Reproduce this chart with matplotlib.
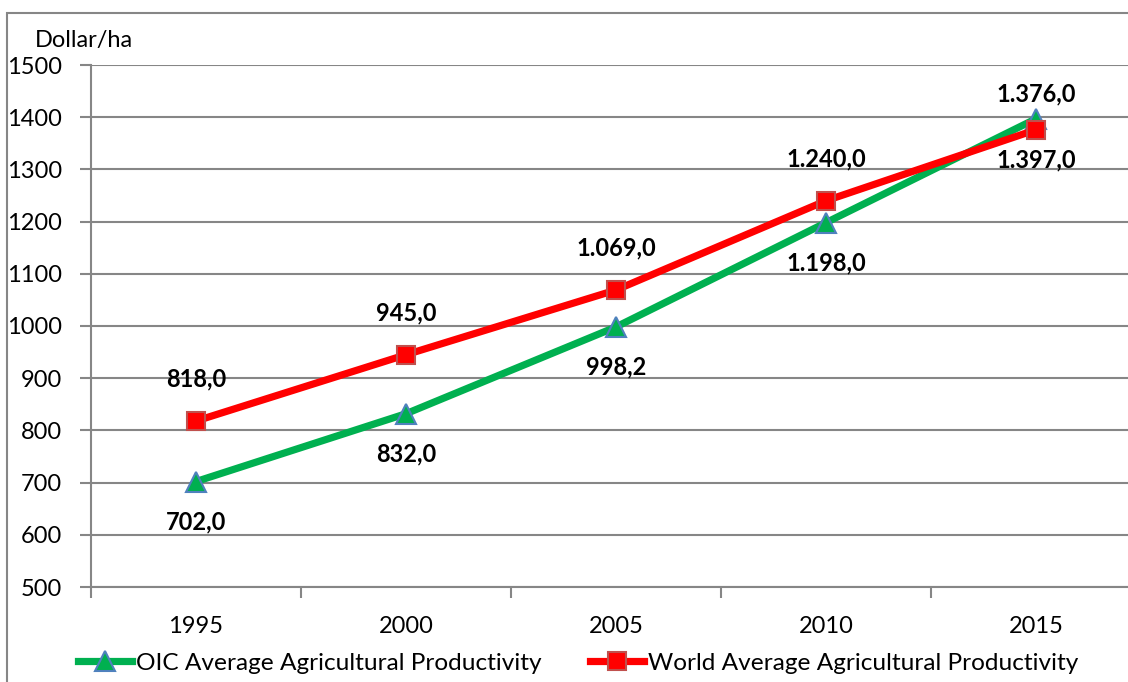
import matplotlib
matplotlib.use("Agg")
import matplotlib.pyplot as plt
from matplotlib.patches import Rectangle
from matplotlib.lines import Line2D

years = ["1995", "2000", "2005", "2010", "2015"]
oic = [702.0, 832.0, 998.2, 1198.0, 1397.0]
world = [818.0, 945.0, 1069.0, 1240.0, 1376.0]
oic_labels = ["702,0", "832,0", "998,2", "1.198,0", "1.376,0"]
world_labels = ["818,0", "945,0", "1.069,0", "1.240,0", "1.397,0"]
yticks = [500, 600, 700, 800, 900, 1000, 1100, 1200, 1300, 1400, 1500]

plt.rcParams['font.family'] = ['Lato', 'DejaVu Sans']
FS = 17

W, H = 1128, 682
fig = plt.figure(figsize=(W/100, H/100), dpi=100)
ax = fig.add_axes([91/W, 1-587/H, (1141-91)/W, (587-65)/H])

green = "#00B050"
red = "#FF0000"
grid_c = "#868686"

x = list(range(len(years)))
ax.plot(x, oic, color=green, lw=5.2, marker="^", ms=14, mfc=green, mec="#4F81BD", mew=1.5,
        zorder=3, solid_capstyle="round")
ax.plot(x, world, color=red, lw=5.2, marker="s", ms=13, mfc=red, mec="#C0504D", mew=1.5,
        zorder=4, solid_capstyle="round")

ax.set_xlim(-0.5, len(years)-0.5)
ax.set_ylim(500, 1500)
ax.set_yticks(yticks)
ax.set_yticklabels([str(v) for v in yticks], fontsize=FS)
ax.set_xticks(x)
ax.set_xticklabels(years, fontsize=FS)
ax.set_xticks([i-0.5 for i in range(len(years)+1)], minor=True)
ax.tick_params(axis="x", which="major", length=0, pad=21)
ax.tick_params(axis="x", which="minor", length=8, color=grid_c, width=1.5, direction="out")
ax.tick_params(axis="y", length=8, color=grid_c, width=1.5, direction="out", pad=13)
ax.yaxis.grid(True, color=grid_c, lw=1.5)
ax.set_axisbelow(True)
for s in ["top", "right"]:
    ax.spines[s].set_visible(False)
for s in ["left", "bottom"]:
    ax.spines[s].set_color(grid_c)
    ax.spines[s].set_linewidth(1.5)

# data labels (offsets in points)
for i in range(len(years)):
    if i < len(years)-1:
        ax.annotate(oic_labels[i], (i, oic[i]), xytext=(0, -29), textcoords="offset points",
                    ha="center", va="center", fontsize=FS, fontweight="bold")
        ax.annotate(world_labels[i], (i, world[i]), xytext=(0, 30), textcoords="offset points",
                    ha="center", va="center", fontsize=FS, fontweight="bold")
    else:
        ax.annotate(oic_labels[i], (i, oic[i]), xytext=(0, 18), textcoords="offset points",
                    ha="center", va="center", fontsize=FS, fontweight="bold")
        ax.annotate(world_labels[i], (i, world[i]), xytext=(0, -22), textcoords="offset points",
                    ha="center", va="center", fontsize=FS, fontweight="bold")

fig.text(35/W, 1-40/H, "Dollar/ha", fontsize=FS, ha="left", va="center")

# frame
fig.patches.append(Rectangle((7/W, -0.1), 1.2, 1-13/H+0.1, transform=fig.transFigure,
                             fill=False, ec=grid_c, lw=1.5))

handles = [Line2D([], [], color=green, lw=5.2, marker="^", ms=14, mfc=green, mec="#4F81BD", mew=1.5),
           Line2D([], [], color=red, lw=5.2, marker="s", ms=13, mfc=red, mec="#C0504D", mew=1.5)]
fig.legend(handles, ["OIC Average Agricultural Productivity", "World Average Agricultural Productivity"],
           loc="center", bbox_to_anchor=(578/W, 1-663/H), ncol=2, frameon=False, fontsize=17.6,
           handlelength=2.2, handletextpad=0.15, columnspacing=2.0)

fig.savefig("out.png", dpi=100)
